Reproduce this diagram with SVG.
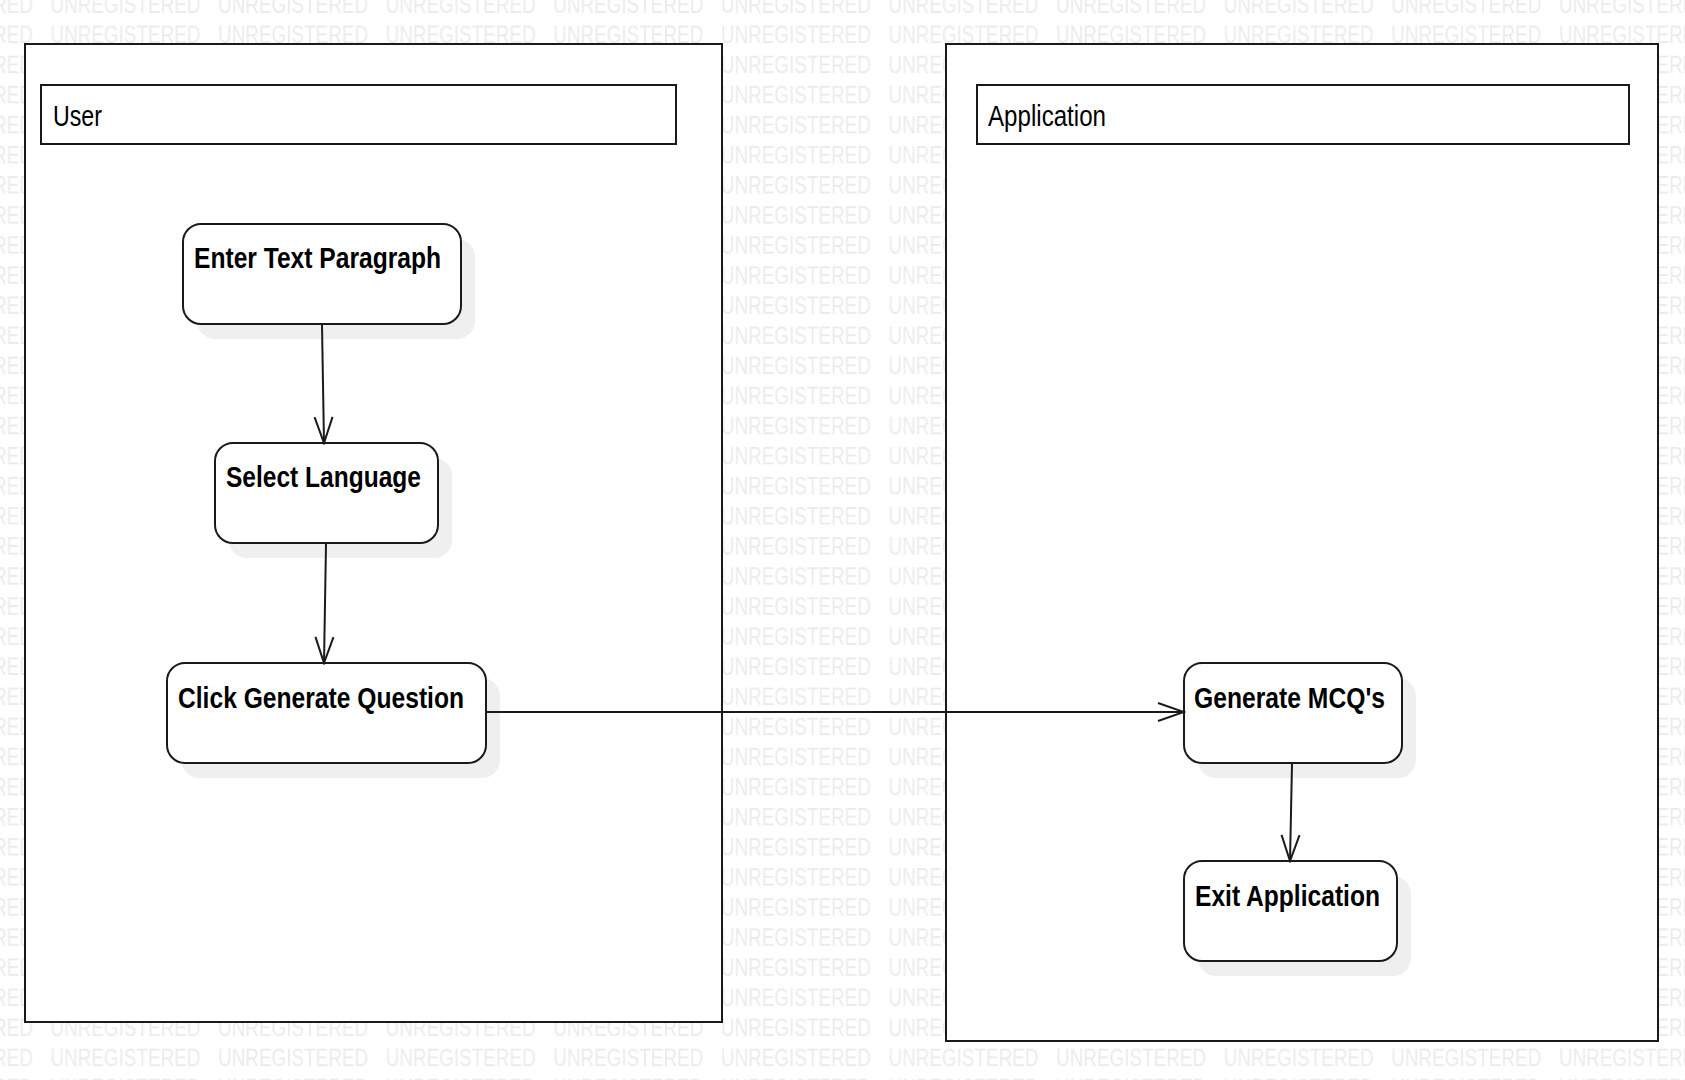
<svg xmlns="http://www.w3.org/2000/svg" width="1685" height="1080" viewBox="0 0 1685 1080">
  <style>
    .frame { fill: #ffffff; stroke: #1a1a1a; stroke-width: 2; }
    .header { fill: #ffffff; stroke: #1a1a1a; stroke-width: 2; }
    .node { fill: #ffffff; stroke: #1a1a1a; stroke-width: 2; }
    .shadow { fill: #efefef; stroke: none; }
    .label { font-family: "Liberation Sans Narrow", "Arial Narrow", "Liberation Sans", sans-serif; font-size: 29px; font-weight: bold; fill: #000000; }
    .hlabel { font-family: "Liberation Sans Narrow", "Arial Narrow", "Liberation Sans", sans-serif; font-size: 30px; fill: #000000; }
    .wm { font-family: "Liberation Sans Narrow", "Arial Narrow", "Liberation Sans", sans-serif; font-size: 25px; fill: #ebebeb; }
    .conn { fill: none; stroke: #1a1a1a; stroke-width: 2; }
  </style>
  <defs>
    <pattern id="wmPattern" patternUnits="userSpaceOnUse" x="50.5" y="22.7" width="167.6" height="30.09">
      <text class="wm" x="0" y="20" textLength="150" lengthAdjust="spacingAndGlyphs">UNREGISTERED</text>
    </pattern>
    <marker id="openArrow" viewBox="-2 -11 30 22" refX="26" refY="0" markerWidth="30" markerHeight="22" markerUnits="userSpaceOnUse" orient="auto">
      <path d="M0,-9 L26,0 L0,9" fill="none" stroke="#1a1a1a" stroke-width="2" stroke-linejoin="miter"/>
    </marker>
  </defs>

  <rect x="0" y="0" width="1685" height="1080" fill="#ffffff"/>
  <rect x="0" y="0" width="1685" height="1080" fill="url(#wmPattern)"/>

  <g id="lane-user">
    <rect class="frame" x="25" y="44" width="697" height="978"/>
    <rect class="header" x="41" y="85" width="635" height="59"/>
    <text class="hlabel" x="53" y="126" textLength="49" lengthAdjust="spacingAndGlyphs">User</text>
  </g>

  <g id="lane-application">
    <rect class="frame" x="946" y="44" width="712" height="997"/>
    <rect class="header" x="977" y="85" width="652" height="59"/>
    <text class="hlabel" x="988" y="126" textLength="118" lengthAdjust="spacingAndGlyphs">Application</text>
  </g>

  <g id="node-enter-text">
    <rect class="shadow" x="197" y="239" width="278" height="100" rx="18" ry="18"/>
    <rect class="node" x="183" y="224" width="278" height="100" rx="18" ry="18"/>
    <text class="label" x="194" y="268" textLength="247" lengthAdjust="spacingAndGlyphs">Enter Text Paragraph</text>
  </g>

  <g id="node-select-language">
    <rect class="shadow" x="229" y="458" width="223" height="100" rx="18" ry="18"/>
    <rect class="node" x="215" y="443" width="223" height="100" rx="18" ry="18"/>
    <text class="label" x="226" y="487" textLength="195" lengthAdjust="spacingAndGlyphs">Select Language</text>
  </g>

  <g id="node-click-generate">
    <rect class="shadow" x="181" y="678" width="319" height="100" rx="18" ry="18"/>
    <rect class="node" x="167" y="663" width="319" height="100" rx="18" ry="18"/>
    <text class="label" x="178" y="708" textLength="286" lengthAdjust="spacingAndGlyphs">Click Generate Question</text>
  </g>

  <g id="node-generate-mcq">
    <rect class="shadow" x="1198" y="678" width="218" height="100" rx="18" ry="18"/>
    <rect class="node" x="1184" y="663" width="218" height="100" rx="18" ry="18"/>
    <text class="label" x="1194" y="708" textLength="191" lengthAdjust="spacingAndGlyphs">Generate MCQ's</text>
  </g>

  <g id="node-exit-application">
    <rect class="shadow" x="1198" y="876" width="213" height="100" rx="18" ry="18"/>
    <rect class="node" x="1184" y="861" width="213" height="100" rx="18" ry="18"/>
    <text class="label" x="1195" y="906" textLength="185" lengthAdjust="spacingAndGlyphs">Exit Application</text>
  </g>

  <g id="connectors">
    <line class="conn" x1="322" y1="325" x2="324" y2="443" marker-end="url(#openArrow)"/>
    <line class="conn" x1="326" y1="544" x2="324" y2="663" marker-end="url(#openArrow)"/>
    <line class="conn" x1="487" y1="712" x2="1184" y2="712" marker-end="url(#openArrow)"/>
    <line class="conn" x1="1292" y1="764" x2="1290" y2="861" marker-end="url(#openArrow)"/>
  </g>
</svg>
